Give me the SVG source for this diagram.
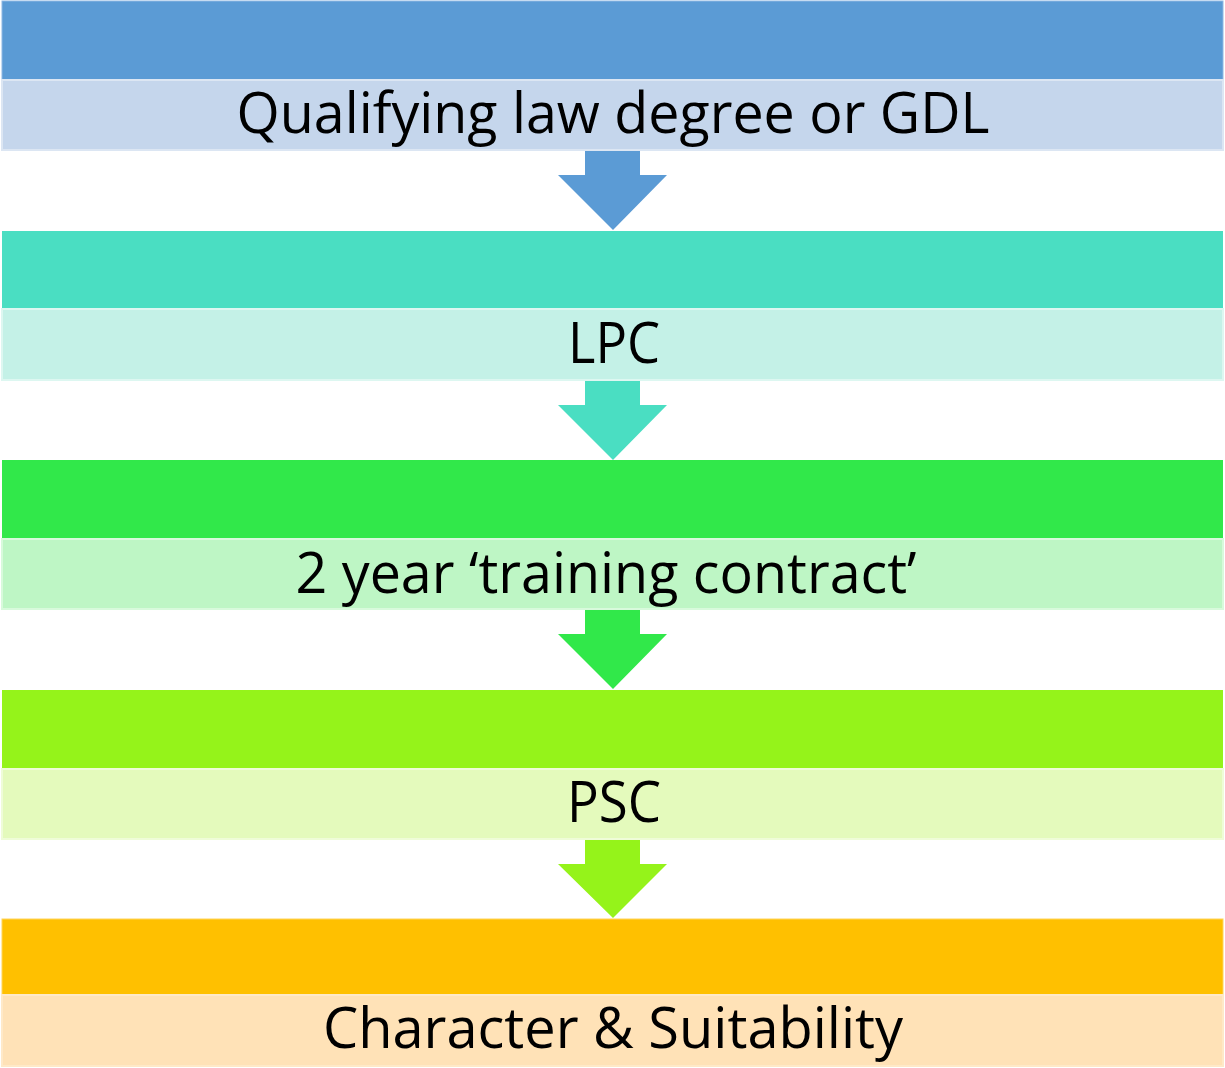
<svg xmlns="http://www.w3.org/2000/svg" width="1225" height="1068" viewBox="0 0 1225 1068">
<style>
.t{font-family:"Open Sans","Liberation Sans",sans-serif;font-size:57px;fill:#000;text-anchor:middle}
.lb{stroke-width:2}
</style>
<rect width="1225" height="1068" fill="#fff"/>
<g id="connectors">
<polygon points="585,151 640,151 640,175 667,175 613,230 558,175 585,175" fill="#5B9BD5"/>
<polygon points="585,381 640,381 640,405 667,405 613,460 558,405 585,405" fill="#4ADEC2"/>
<polygon points="585,610 640,610 640,634 667,634 613,689 558,634 585,634" fill="#31E84A"/>
<polygon points="585,840 640,840 640,864 667,864 613,918 558,864 585,864" fill="#95F31A"/>
</g>
<g id="node1">
<rect x="2" y="1" width="1221" height="79" fill="#5B9BD5" stroke="#8DB7E3" stroke-width="1"/>
<rect x="2" y="80" width="1221" height="70" fill="#C5D6EC" stroke="#DCE6F3" class="lb"/>
<text class="t" x="613" y="133" textLength="753" lengthAdjust="spacingAndGlyphs">Qualifying law degree or GDL</text>
</g>
<g id="node2">
<rect x="2" y="231" width="1221" height="78" fill="#4ADEC2"/>
<rect x="2" y="309" width="1221" height="71" fill="#C4F1E7" stroke="#DDF7F1" class="lb"/>
<text class="t" x="614" y="363" textLength="92" lengthAdjust="spacingAndGlyphs">LPC</text>
</g>
<g id="node3">
<rect x="2" y="460" width="1221" height="79" fill="#31E84A"/>
<rect x="2" y="539" width="1221" height="70" fill="#BEF6C5" stroke="#D8FADC" class="lb"/>
<text class="t" x="606" y="593" textLength="621" lengthAdjust="spacingAndGlyphs">2 year ‘training contract’</text>
</g>
<g id="node4">
<rect x="2" y="690" width="1221" height="79" fill="#95F31A"/>
<rect x="2" y="769" width="1221" height="70" fill="#E4FABC" stroke="#EFFCD8" class="lb"/>
<text class="t" x="614" y="822" textLength="94" lengthAdjust="spacingAndGlyphs">PSC</text>
</g>
<g id="node5">
<rect x="2" y="919" width="1221" height="76" fill="#FFC000" stroke="#FFD45A" stroke-width="1"/>
<rect x="2" y="995" width="1221" height="71" fill="#FFE2B7" stroke="#FFE9C8" class="lb"/>
<text class="t" x="613" y="1048" textLength="580" lengthAdjust="spacingAndGlyphs">Character &amp; Suitability</text>
</g>
</svg>
